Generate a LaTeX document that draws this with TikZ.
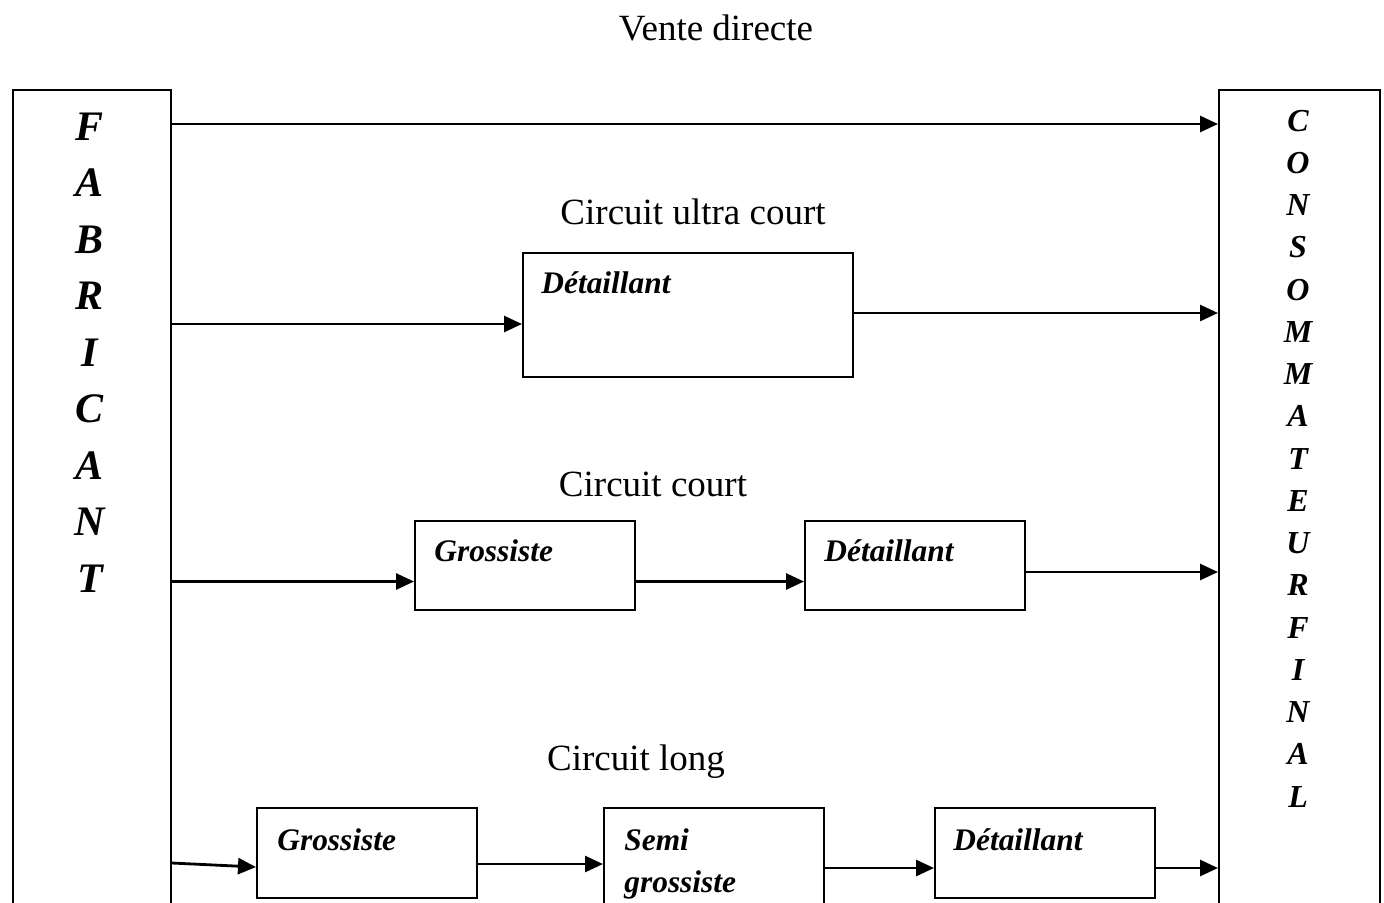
\documentclass[tikz,border=0pt]{standalone}
\usepackage{fontspec}
\setmainfont{Liberation Serif}
\usetikzlibrary{arrows.meta}

\tikzset{
  boite/.style={draw, line width=1pt, anchor=north west, inner sep=0pt,
    minimum width=110pt, minimum height=44.5pt},
  fleche/.style={-{Triangle[length=9pt,width=8pt]}, line width=1.4pt},
  nom/.style={font=\fontsize{15.7}{21}\selectfont\bfseries\itshape,
    anchor=north west, inner sep=0pt, align=left},
  titre/.style={font=\fontsize{18.5}{22}\selectfont, anchor=base, inner sep=0pt},
  lettre/.style={font=\bfseries\itshape, anchor=base, inner sep=0pt}
}

\begin{document}
\begin{tikzpicture}[x=0.5pt, y=-0.5pt]
\useasboundingbox (0,0) rectangle (1384,902);
\clip (0,0) rectangle (1384,902);

% les deux extremites
\node [boite, minimum width=79pt, minimum height=440pt] (fab) at (12,89) {};
\node [boite, minimum width=80.5pt, minimum height=440pt] (cons) at (1218,89) {};
\foreach \l [count=\i] in {F,A,B,R,I,C,A,N,T}
  \node [lettre, font=\fontsize{21}{25}\selectfont\bfseries\itshape] (fab\i) at (90, 140+56.5*\i-56.5) {\l};
\foreach \l [count=\i] in {C,O,N,S,O,M,M,A,T,E,U,R,F,I,N,A,L}
  \node [lettre, font=\fontsize{16}{20}\selectfont\bfseries\itshape] (cons\i) at (1298, 131+42.25*\i-42.25) {\l};

% vente directe
\node [titre] (vente) at (716,40) {Vente directe};
\coordinate (vd) at (700,124);
\draw [fleche] (fab.east |- vd) -- (cons.west |- vd);

% circuit ultra court
\node [titre] (ultra) at (693,224) {Circuit ultra court};
\node [boite, minimum width=165pt, minimum height=62pt] (det1) at (522,252) {};
\node [nom] (det1t) at ([xshift=9.5pt,yshift=-9.5pt]det1.north west) {Détaillant};
\coordinate (a1) at ([yshift=-4.5pt]det1.west);
\draw [fleche] (fab.east |- a1) -- (a1);
\coordinate (b1) at ([yshift=1pt]det1.east);
\draw [fleche] (b1) -- (cons.west |- b1);

% circuit court
\node [titre] (court) at (653,496) {Circuit court};
\node [boite] (gros2) at (414,520) {};
\node [boite] (det2) at (804,520) {};
\node [nom] (gros2t) at ([xshift=10pt,yshift=-9.5pt]gros2.north west) {Grossiste};
\node [nom] (det2t) at ([xshift=10pt,yshift=-9.5pt]det2.north west) {Détaillant};
\coordinate (a2) at ([yshift=-8pt]gros2.west);
\draw [fleche] (fab.east |- a2) -- (a2);
\draw [fleche] ([yshift=-8pt]gros2.east) -- ([yshift=-8pt]det2.west);
\coordinate (b2) at ([yshift=-3.25pt]det2.east);
\draw [fleche] (b2) -- (cons.west |- b2);

% circuit long
\node [titre] (long) at (636,770) {Circuit long};
\node [boite, minimum height=45pt] (gros3) at (256,807) {};
\node [boite, minimum height=70pt] (semi) at (603,807) {};
\node [boite, minimum height=45pt] (det3) at (934,807) {};
\node [nom] (gros3t) at ([xshift=10.5pt,yshift=-10.5pt]gros3.north west) {Grossiste};
\node [nom] (semit) at ([xshift=10.5pt,yshift=-10.5pt]semi.north west) {Semi\\grossiste};
\node [nom] (det3t) at ([xshift=9.5pt,yshift=-10.5pt]det3.north west) {Détaillant};
\coordinate (a3) at ([yshift=-7pt]gros3.west);
\coordinate (f3) at ([yshift=2pt]fab.east |- a3);
\draw [fleche] (f3) -- (a3);
\coordinate (b3) at ([yshift=-5.5pt]gros3.east);
\draw [fleche] (b3) -- (semi.west |- b3);
\coordinate (c3) at ([yshift=-7.5pt]det3.west);
\draw [fleche] (semi.east |- c3) -- (c3);
\coordinate (d3) at ([yshift=-7.5pt]det3.east);
\draw [fleche] (d3) -- (cons.west |- d3);
\end{tikzpicture}
\end{document}
